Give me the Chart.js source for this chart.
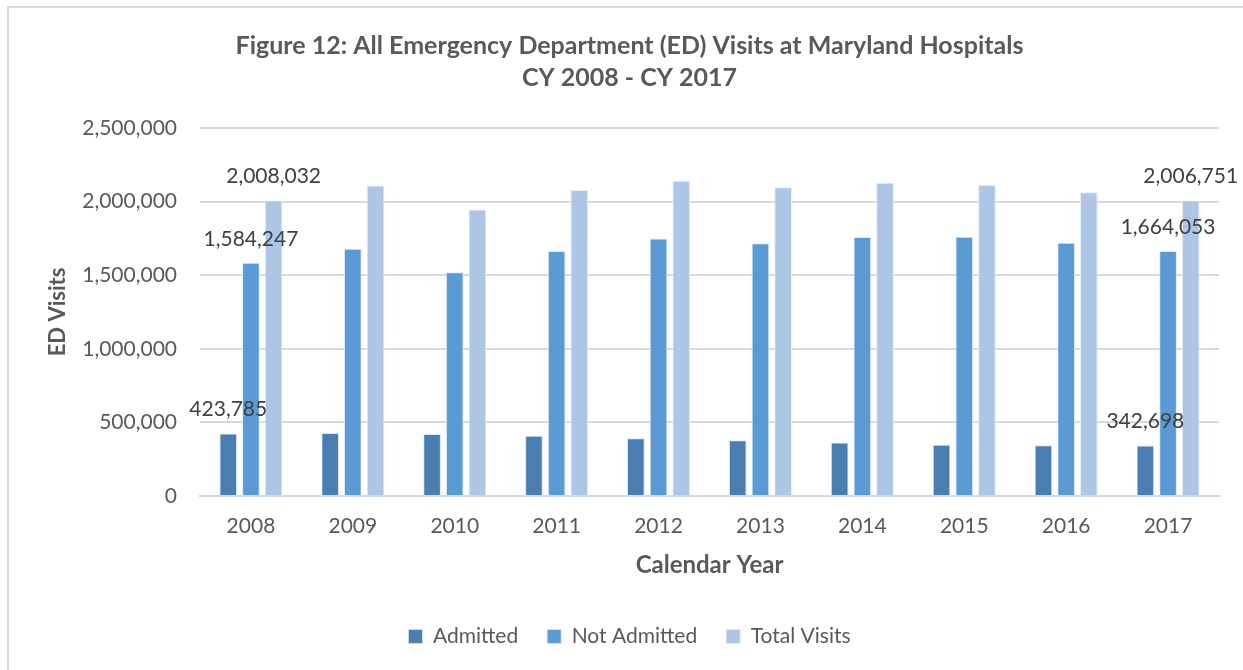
<!DOCTYPE html>
<html>
<head>
<meta charset="utf-8">
<script src="https://cdn.jsdelivr.net/npm/chart.js@4"></script>
<style>
  html, body { margin: 0; padding: 0; background: #fff; }
  #wrap { position: relative; width: 1243px; height: 670px; }
  #frame { position: absolute; left: 7px; top: 6px; right: -4px; bottom: -4px; border-left: 2px solid #d9d9d9; border-top: 2px solid #d9d9d9; pointer-events: none; }
  canvas { position: absolute; left: 0; top: 0; }
</style>
</head>
<body>
<div id="wrap">
  <canvas id="c" width="1243" height="670"></canvas>
  <div id="frame"></div>
</div>
<script>
const categories = ['2008','2009','2010','2011','2012','2013','2014','2015','2016','2017'];
const admitted    = [423785, 428000, 422000, 410000, 392000, 378000, 363000, 348000, 344000, 342698];
const notAdmitted = [1584247, 1680000, 1520000, 1665000, 1750000, 1717000, 1760000, 1762000, 1720000, 1664053];
const totalVisits = [2008032, 2110000, 1947000, 2079000, 2142000, 2097000, 2128000, 2113000, 2063000, 2006751];
const seriesNames = ['Admitted', 'Not Admitted', 'Total Visits'];
const labelledIndices = [0, 9];
const yMax = 2500000;
const yStep = 500000;

const FONT = 'Lato, "Open Sans", sans-serif';

const dataLabelPlugin = {
  id: 'dataLabels',
  afterDatasetsDraw(chart) {
    const ctx = chart.ctx;
    ctx.save();
    ctx.font = '21px ' + FONT;
    ctx.fillStyle = '#404040';
    ctx.textAlign = 'center';
    ctx.textBaseline = 'middle';
    chart.data.datasets.forEach((ds, di) => {
      const meta = chart.getDatasetMeta(di);
      labelledIndices.forEach(i => {
        const el = meta.data[i];
        const v = ds.data[i];
        ctx.fillText(v.toLocaleString('en-US'), el.x, el.y - 24);
      });
    });
    ctx.restore();
  }
};

new Chart(document.getElementById('c'), {
  type: 'bar',
  data: {
    labels: categories,
    datasets: [
      { label: seriesNames[0], data: admitted, backgroundColor: '#4a7eb1', borderColor: '#dbe6f2', borderWidth: {left:1,right:1,top:1,bottom:0} },
      { label: seriesNames[1], data: notAdmitted, backgroundColor: '#5b9bd5', borderColor: '#dbe9f6', borderWidth: {left:1,right:1,top:1,bottom:0} },
      { label: seriesNames[2], data: totalVisits, backgroundColor: '#adc6e6', borderColor: '#e3ecf7', borderWidth: {left:1,right:1,top:1,bottom:0} }
    ]
  },
  options: {
    responsive: false,
    animation: false,
    devicePixelRatio: 1,
    layout: { padding: { left: 40, right: 24, top: 0, bottom: 13 } },
    datasets: { bar: { categoryPercentage: 0.668, barPercentage: 0.78 } },
    plugins: {
      title: {
        display: true,
        text: ['Figure 12: All Emergency Department (ED) Visits at Maryland Hospitals', 'CY 2008 - CY 2017'],
        color: '#595959',
        font: { family: FONT, size: 25, weight: 'bold', lineHeight: 1.28 },
        padding: { top: 30, bottom: 34 }
      },
      legend: {
        position: 'bottom',
        labels: {
          color: '#595959',
          font: { family: FONT, size: 21 },
          boxWidth: 14, boxHeight: 14,
          padding: 29
        }
      },
      tooltip: { enabled: false }
    },
    scales: {
      x: {
        grid: { display: false, drawTicks: false },
        border: { display: true, color: '#d9d9d9', width: 2 },
        ticks: { color: '#595959', font: { family: FONT, size: 21 }, padding: 18 },
        title: {
          display: true, text: 'Calendar Year', color: '#595959',
          font: { family: FONT, size: 24, weight: 'bold', lineHeight: 1.2 },
          padding: { top: 0, bottom: 17 }
        },
        afterFit(s) { s.height = 101; }
      },
      y: {
        min: 0, max: yMax,
        grid: { color: '#d9d9d9', lineWidth: 2, drawTicks: false },
        border: { display: false },
        ticks: {
          stepSize: yStep,
          color: '#595959', font: { family: FONT, size: 21 }, padding: 23,
          callback: v => v.toLocaleString('en-US')
        },
        title: {
          display: true, text: 'ED Visits', color: '#595959',
          font: { family: FONT, size: 22, weight: 'bold', lineHeight: 1.2 },
          padding: { top: 5, bottom: 0 }
        },
        afterFit(s) { s.width = 160; }
      }
    }
  },
  plugins: [dataLabelPlugin]
});
</script>
</body>
</html>
